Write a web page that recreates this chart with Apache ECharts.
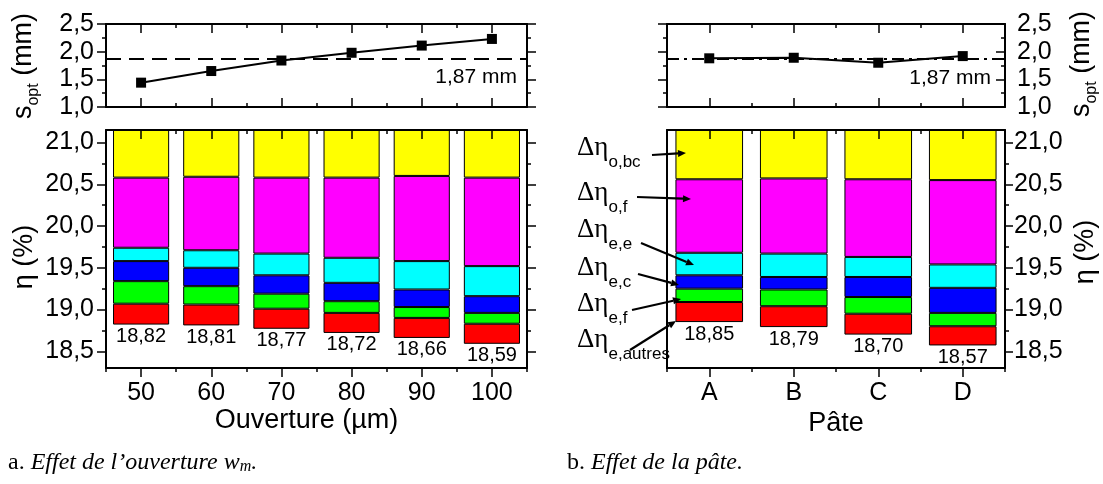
<!DOCTYPE html>
<html><head><meta charset="utf-8">
<script src="https://cdn.jsdelivr.net/npm/echarts@6/dist/echarts.min.js"></script>
<style>html,body{margin:0;padding:0;background:#fff}#c{width:1103px;height:484px}</style>
</head><body><div id="c"></div>
<script>
// ---------- data ----------
const ouvertureCats = ['50', '60', '70', '80', '90', '100'];
const sOptOuverture = [1.44, 1.65, 1.84, 1.98, 2.11, 2.23];
const etaOuverture = [18.82, 18.81, 18.77, 18.72, 18.66, 18.59];
const dEtaAutresO = [0.25, 0.25, 0.24, 0.24, 0.24, 0.24];
const dEtaEfO = [0.27, 0.22, 0.18, 0.14, 0.13, 0.13];
const dEtaEcO = [0.24, 0.22, 0.22, 0.22, 0.21, 0.20];
const dEtaEeO = [0.16, 0.21, 0.26, 0.30, 0.34, 0.36];
const dEtaOfO = [0.84, 0.88, 0.91, 0.96, 1.02, 1.06];
const dEtaObcO = [0.72, 0.71, 0.72, 0.72, 0.70, 0.72];

const pateCats = ['A', 'B', 'C', 'D'];
const sOptPate = [1.88, 1.89, 1.80, 1.92];
const etaPate = [18.85, 18.79, 18.70, 18.57];
const dEtaAutresP = [0.24, 0.25, 0.25, 0.23];
const dEtaEfP = [0.16, 0.20, 0.20, 0.16];
const dEtaEcP = [0.16, 0.15, 0.24, 0.30];
const dEtaEeP = [0.27, 0.28, 0.24, 0.28];
const dEtaOfP = [0.88, 0.90, 0.93, 1.01];
const dEtaObcP = [0.74, 0.73, 0.74, 0.75];

const sOptRef = 1.87;
const sTicks = [1.0, 1.5, 2.0, 2.5];
const sMinorTicks = [1.25, 1.75, 2.25];
const etaTicks = [18.5, 19.0, 19.5, 20.0, 20.5, 21.0];
const etaMinorTicks = [18.75, 19.25, 19.75, 20.25, 20.75];
const legendLabels = ['o,bc', 'o,f', 'e,e', 'e,c', 'e,f', 'e,autres'];

// ---------- style ----------
const SANS = '"Liberation Sans", Arial, Helvetica, sans-serif';
const SERIF = '"Liberation Serif", "Times New Roman", serif';
const segColors = ['#ff0000', '#00ff00', '#0000ff', '#00ffff', '#ff00ff', '#ffff00'];
const comma = (v, d) => v.toFixed(d).replace('.', ',');

const chart = echarts.init(document.getElementById('c'), null, {renderer: 'canvas'});

const grids = [
  {left: 106, top: 24, width: 421, height: 83},   // 0 top-left
  {left: 106, top: 130, width: 421, height: 238}, // 1 bottom-left
  {left: 667, top: 24, width: 338, height: 83},   // 2 top-right
  {left: 667, top: 130, width: 338, height: 238}  // 3 bottom-right
];

const xAxes = [];
const yAxes = [];
function catAxis(g, cats, pos, major, inside, label, name, nameGap, namePad) {
  const ax = {
    type: 'category', gridIndex: g, data: cats, position: pos, boundaryGap: true, z: 10,
    axisLine: {show: major, onZero: false, lineStyle: {color: '#000', width: 2}},
    axisTick: {show: true, alignWithLabel: major, interval: 0, inside: inside, length: major ? 9 : 4,
      lineStyle: {color: '#000', width: 1.5}},
    axisLabel: label ? {show: true, interval: 0, margin: 13, fontSize: 25, fontFamily: SANS, color: '#000'} : {show: false},
    splitLine: {show: false}, splitArea: {show: false}
  };
  if (name) {
    ax.name = name; ax.nameLocation = 'middle'; ax.nameGap = nameGap;
    ax.nameTextStyle = {fontSize: 27, fontFamily: SANS, color: '#000', padding: namePad};
  }
  xAxes.push(ax);
  return xAxes.length - 1;
}
function valAxis(g, pos, min, max, ticks, major, tickShow, inside, label, margin, tickLen) {
  yAxes.push({
    type: 'value', gridIndex: g, position: pos, min: min, max: max, z: 10,
    axisLine: {show: major, onZero: false, lineStyle: {color: '#000', width: 2}},
    axisTick: {show: tickShow, inside: inside, length: tickLen, customValues: ticks,
      lineStyle: {color: '#000', width: 1.5}},
    axisLabel: label ? {show: true, customValues: ticks, margin: margin, fontSize: 25, fontFamily: SANS,
      color: '#000', formatter: v => comma(v, 1)} : {show: false},
    splitLine: {show: false}
  });
  return yAxes.length - 1;
}

// x axes
const xTL = catAxis(0, ouvertureCats, 'bottom', true, true, false);
catAxis(0, ouvertureCats, 'bottom', false, true, false);
catAxis(0, ouvertureCats, 'top', true, true, false);
catAxis(0, ouvertureCats, 'top', false, true, false);
const xBL = catAxis(1, ouvertureCats, 'bottom', true, false, true, 'Ouverture (µm)', 34, [0, 20, 0, 0]);
catAxis(1, ouvertureCats, 'bottom', false, false, false);
catAxis(1, ouvertureCats, 'top', true, true, false);
catAxis(1, ouvertureCats, 'top', false, true, false);
const xTR = catAxis(2, pateCats, 'bottom', true, true, false);
catAxis(2, pateCats, 'bottom', false, true, false);
catAxis(2, pateCats, 'top', true, true, false);
catAxis(2, pateCats, 'top', false, true, false);
const xBR = catAxis(3, pateCats, 'bottom', true, false, true, 'Pâte', 42, [0, 0, 0, 0]);
catAxis(3, pateCats, 'bottom', false, false, false);
catAxis(3, pateCats, 'top', true, true, false);
catAxis(3, pateCats, 'top', false, true, false);

// y axes
const S_MIN = 1.0, S_MAX = 2.5, E_MIN = 18.3, E_MAX = 21.15;
const yTL = valAxis(0, 'left', S_MIN, S_MAX, sTicks, true, true, false, true, 12, 9);
valAxis(0, 'left', S_MIN, S_MAX, sMinorTicks, false, true, false, false, 0, 4);
valAxis(0, 'right', S_MIN, S_MAX, sTicks, true, true, false, false, 0, 9);
valAxis(0, 'right', S_MIN, S_MAX, sMinorTicks, false, true, false, false, 0, 4);
const yBL = valAxis(1, 'left', E_MIN, E_MAX, etaTicks, true, true, false, true, 12, 9);
valAxis(1, 'left', E_MIN, E_MAX, etaMinorTicks, false, true, false, false, 0, 4);
valAxis(1, 'right', E_MIN, E_MAX, etaTicks, true, true, false, false, 0, 9);
valAxis(1, 'right', E_MIN, E_MAX, etaMinorTicks, false, true, false, false, 0, 4);
valAxis(2, 'left', S_MIN, S_MAX, sTicks, true, true, false, false, 0, 9);
valAxis(2, 'left', S_MIN, S_MAX, sMinorTicks, false, true, false, false, 0, 4);
const yTR = valAxis(2, 'right', S_MIN, S_MAX, sTicks, true, true, true, true, 12, 9);
valAxis(2, 'right', S_MIN, S_MAX, sMinorTicks, false, true, true, false, 0, 4);
valAxis(3, 'left', E_MIN, E_MAX, etaTicks, true, false, false, false, 0, 9);
const yBR = valAxis(3, 'right', E_MIN, E_MAX, etaTicks, true, true, false, true, 9, 8);
valAxis(3, 'right', E_MIN, E_MAX, etaMinorTicks, false, true, false, false, 0, 4);

// series
const series = [];
function sLine(xi, yi, data, dash, lblDist) {
  series.push({
    type: 'line', xAxisIndex: xi, yAxisIndex: yi, data: data, z: 5,
    symbol: 'rect', symbolSize: 10, itemStyle: {color: '#000'},
    lineStyle: {color: '#000', width: 2},
    markLine: {
      silent: true, symbol: ['none', 'none'], animation: false,
      lineStyle: {color: '#000', width: 2, type: dash},
      label: {show: true, position: 'insideEndBottom', distance: lblDist, formatter: comma(sOptRef, 2) + ' mm',
        fontSize: 21, fontFamily: SANS, color: '#000'},
      data: [{yAxis: sOptRef}]
    }
  });
}
function sBars(xi, yi, stack, totals, segs) {
  series.push({
    type: 'bar', xAxisIndex: xi, yAxisIndex: yi, stack: stack, data: totals, barWidth: '80%',
    itemStyle: {color: 'rgba(0,0,0,0)', borderWidth: 0}, silent: true
  });
  segs.forEach((arr, k) => {
    const s = {
      type: 'bar', xAxisIndex: xi, yAxisIndex: yi, stack: stack, data: arr, barWidth: '80%',
      itemStyle: {color: segColors[k], borderColor: '#000', borderWidth: 1}
    };
    if (k === 0) {
      s.label = {show: true, position: 'bottom', distance: 2, fontSize: 20, fontFamily: SANS, color: '#000',
        formatter: p => comma(totals[p.dataIndex], 2)};
    }
    series.push(s);
  });
}
sLine(xTL, yTL, sOptOuverture, [15, 8], [10, 8]);
sBars(xBL, yBL, 'o', etaOuverture, [dEtaAutresO, dEtaEfO, dEtaEcO, dEtaEeO, dEtaOfO, dEtaObcO]);
sLine(xTR, yTR, sOptPate, [12, 5, 3, 5], [14, 9]);
sBars(xBR, yBR, 'p', etaPate, [dEtaAutresP, dEtaEfP, dEtaEcP, dEtaEeP, dEtaOfP, dEtaObcP]);

// ---------- annotation graphics ----------
const graphic = [];
function rotLabel(cx, cy, text, rich) {
  graphic.push({type: 'text', x: cx, y: cy, rotation: Math.PI / 2,
    style: {text: text, rich: rich, align: 'center', verticalAlign: 'middle', fill: '#000'}});
}
const axRich = {a: {fontSize: 27, fontFamily: SANS, lineHeight: 36, fill: '#000'},
  b: {fontSize: 16, fontFamily: SANS, lineHeight: 16, verticalAlign: 'bottom', fill: '#000'}};
rotLabel(24, 66, '{a|s}{b|opt}{a| (mm)}', axRich);
rotLabel(25, 257, '{a|η (%)}', axRich);
rotLabel(1082, 64, '{a|s}{b|opt}{a| (mm)}', axRich);
rotLabel(1086, 252, '{a|η (%)}', axRich);

// legend labels with arrows (bar A)
const legendRows = [
  {y: 125, tail: [652, 155], tip: [686, 153]},
  {y: 170, tail: [637, 197], tip: [691, 199]},
  {y: 207, tail: [641, 243], tip: [694, 265]},
  {y: 245, tail: [638, 274], tip: [679, 285]},
  {y: 281, tail: [632, 310], tip: [681, 299]},
  {y: 317, tail: [630, 350], tip: [676, 321]}
];
legendRows.forEach((r, i) => {
  graphic.push({type: 'text', x: 577, y: r.y, z: 20, style: {
    text: '{d|Δη}{s|' + legendLabels[i] + '}', align: 'left', verticalAlign: 'top',
    rich: {d: {fontSize: 27, fontFamily: SERIF, lineHeight: 46, fill: '#000'},
      s: {fontSize: 17, fontFamily: SANS, lineHeight: 17, verticalAlign: 'bottom', fill: '#000'}}}});
  const dx = r.tip[0] - r.tail[0], dy = r.tip[1] - r.tail[1];
  const L = Math.hypot(dx, dy), ux = dx / L, uy = dy / L;
  const hl = 8, hw = 3.5;
  const bx = r.tip[0] - ux * hl, by = r.tip[1] - uy * hl;
  graphic.push({type: 'line', z: 20, shape: {x1: r.tail[0], y1: r.tail[1], x2: bx, y2: by},
    style: {stroke: '#000', lineWidth: 2.2}});
  graphic.push({type: 'polygon', z: 20, shape: {points: [r.tip, [bx - uy * hw, by + ux * hw], [bx + uy * hw, by - ux * hw]]},
    style: {fill: '#000'}});
});

// captions
const capRich = {n: {fontSize: 24, fontFamily: SERIF, fill: '#000'},
  i: {fontSize: 24, fontFamily: SERIF, fontStyle: 'italic', fill: '#000'},
  s: {fontSize: 16, fontFamily: SERIF, fontStyle: 'italic', verticalAlign: 'bottom', lineHeight: 14, fill: '#000'}};
graphic.push({type: 'text', x: 8, y: 463, style: {text: '{n|a. }{i|Effet de l’ouverture w}{s|m}{i|.}', rich: capRich,
  align: 'left', verticalAlign: 'middle'}});
graphic.push({type: 'text', x: 567, y: 463, style: {text: '{n|b. }{i|Effet de la pâte.}', rich: capRich,
  align: 'left', verticalAlign: 'middle'}});

chart.setOption({
  animation: false,
  backgroundColor: '#fff',
  grid: grids.map(g => Object.assign({containLabel: false}, g)),
  xAxis: xAxes,
  yAxis: yAxes,
  series: series,
  graphic: graphic
});
</script></body></html>
